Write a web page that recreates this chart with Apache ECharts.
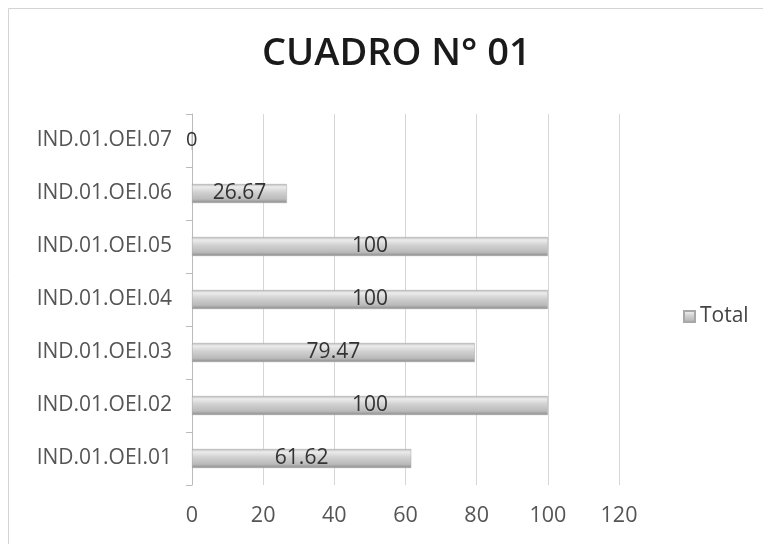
<!DOCTYPE html>
<html><head><meta charset="utf-8">
<script src="https://cdn.jsdelivr.net/npm/echarts@6/dist/echarts.min.js"></script>
<style>html,body{margin:0;padding:0;background:#fff}#c{width:763px;height:544px}</style>
</head><body><div id="c"></div>
<script>
var categories = ['IND.01.OEI.01','IND.01.OEI.02','IND.01.OEI.03','IND.01.OEI.04','IND.01.OEI.05','IND.01.OEI.06','IND.01.OEI.07'];
var totalValues = [61.62, 100, 79.47, 100, 100, 26.67, 0];
var xTicks = [0, 20, 40, 60, 80, 100, 120];

var chart = echarts.init(document.getElementById('c'));
var barColor = new echarts.graphic.LinearGradient(0,0,0,1,[
  {offset:0,color:'#b8b8b8'},{offset:0.15,color:'#ececec'},{offset:0.45,color:'#d0d0d0'},
  {offset:0.8,color:'#bababa'},{offset:1,color:'#8a8a8a'}]);
chart.setOption({
  animation:false,
  graphic:[{type:'rect',shape:{x:8.5,y:8.5,width:780,height:560},style:{fill:'none',stroke:'#d4d4d4',lineWidth:1}}],
  title:{text:'CUADRO N° 01',left:257,top:30,textStyle:{fontFamily:'Open Sans',fontSize:38,fontWeight:600,color:'#1a1a1a'}},
  legend:{data:['Total'],orient:'vertical',left:678,top:301,itemWidth:11,itemHeight:11,itemGap:6,
    textStyle:{fontFamily:'Open Sans',fontSize:21,color:'#444'},icon:'rect'},
  grid:{left:192,right:144,top:114,bottom:59,containLabel:false},
  xAxis:{type:'value',min:0,max:120,interval:20,
    axisLine:{show:false},axisTick:{show:false},
    axisLabel:{fontFamily:'Open Sans',fontSize:21.5,color:'#555',margin:20,
      formatter:function(v){return xTicks.indexOf(v)>=0?String(v):'';}},
    splitLine:{show:true,lineStyle:{color:'#d6d6d6',width:1}}},
  yAxis:{type:'category',data:categories,
    axisLine:{show:true,lineStyle:{color:'#bbbbbb'}},axisTick:{show:true,length:6,lineStyle:{color:'#bbbbbb'}},
    axisLabel:{fontFamily:'Open Sans',fontSize:21,color:'#555',margin:20}},
  series:[{name:'Total',type:'bar',data:totalValues,barWidth:19,
    itemStyle:{color:barColor,borderColor:'#a8a8a8',borderWidth:0.5},
    label:{show:true,position:'inside',fontFamily:'Open Sans',fontSize:21,color:'#333',
      formatter:function(p){return p.value===0?'':String(p.value);}}
  },{
    name:'zero',type:'bar',data:totalValues.map(function(v){return v===0?0:null;}),barWidth:19,barGap:'-100%',
    silent:true,itemStyle:{color:'transparent'},
    label:{show:true,position:'right',distance:-6,fontFamily:'Open Sans',fontSize:20,color:'#333',
      formatter:function(p){return p.value===0?'0':'';}}
  }]
});
</script></body></html>
